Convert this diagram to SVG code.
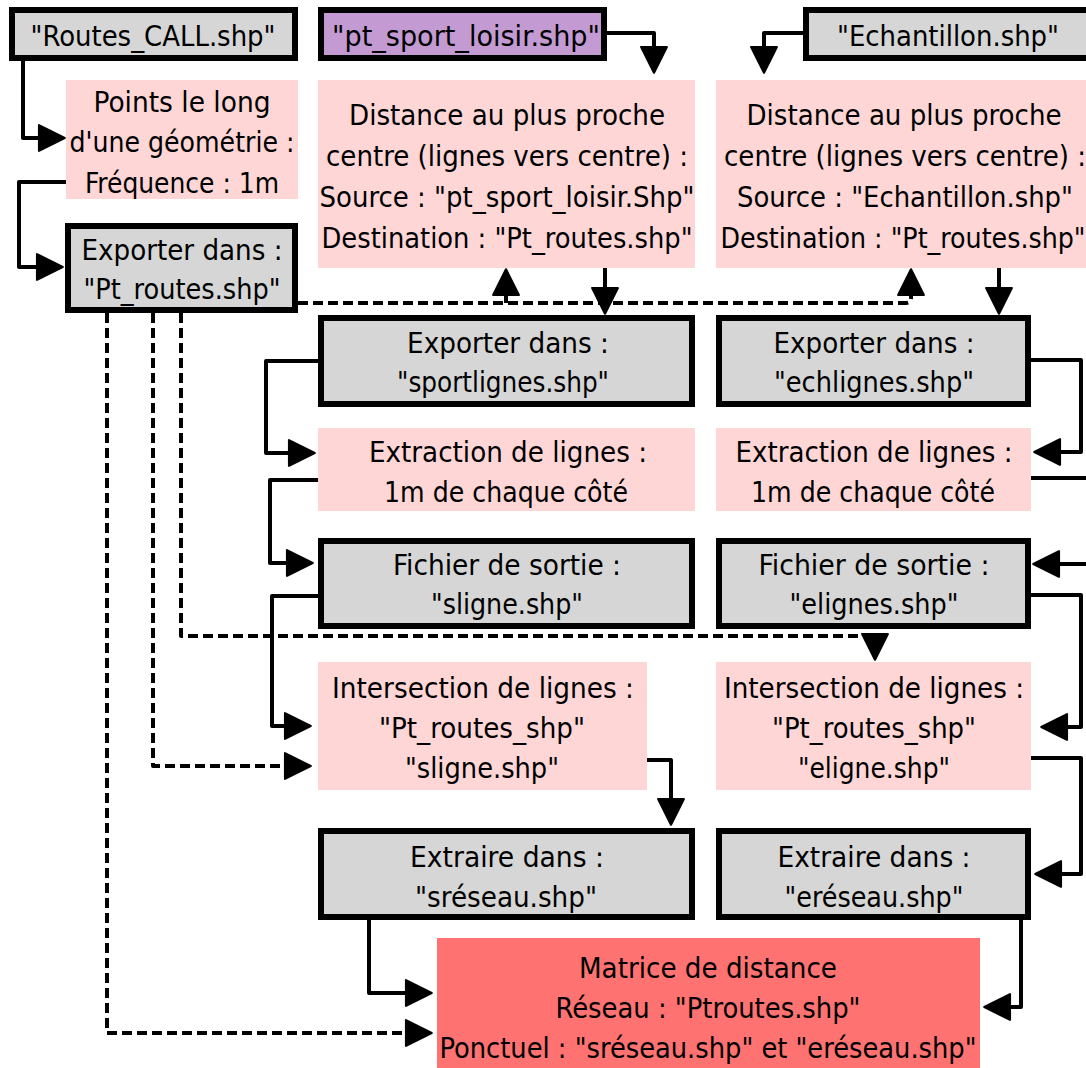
<svg xmlns="http://www.w3.org/2000/svg" width="1086" height="1068" viewBox="0 0 1086 1068">
<defs>
<style>
.gray{fill:#d6d6d6;stroke:#000;stroke-width:6}
.purple{fill:#c39ad2;stroke:#000;stroke-width:6}
.pink{fill:#ffd6d6}
.red{fill:#ff7272}
text{font-family:"DejaVu Sans Condensed","Liberation Sans Narrow","Liberation Sans",sans-serif;font-size:28px;fill:#000;text-anchor:middle}
.c{fill:none;stroke:#000;stroke-width:4;stroke-linejoin:round;marker-end:url(#ah)}
.n{fill:none;stroke:#000;stroke-width:4;stroke-linejoin:round}
.d{fill:none;stroke:#000;stroke-width:4;stroke-dasharray:10 5;stroke-linejoin:round;marker-end:url(#ah)}
</style>
<marker id="ah" markerUnits="userSpaceOnUse" markerWidth="30" markerHeight="30" viewBox="-2 -2 28 28" refX="14" refY="12" orient="auto">
<path d="M0,0 L24,12 L0,24 Z" fill="#000" stroke="#000" stroke-width="2" stroke-linejoin="round"/>
</marker>
</defs>
<rect width="1086" height="1068" fill="#fff"/>

<g id="routes_call">
<rect class="gray" x="12" y="10" width="283" height="48"/>
<text x="153" y="46" textLength="245" lengthAdjust="spacingAndGlyphs">"Routes_CALL.shp"</text>
</g>
<g id="pt_sport_loisir">
<rect class="purple" x="321" y="10" width="283" height="48"/>
<text x="466" y="46" textLength="268" lengthAdjust="spacingAndGlyphs">"pt_sport_loisir.shp"</text>
</g>
<g id="echantillon">
<rect class="gray" x="806" y="10" width="300" height="48"/>
<text x="948" y="46" textLength="222" lengthAdjust="spacingAndGlyphs">"Echantillon.shp"</text>
</g>
<g id="points_geometrie">
<rect class="pink" x="66" y="80" width="232" height="119"/>
<text x="182" y="112" textLength="177" lengthAdjust="spacingAndGlyphs">Points le long</text>
<text x="182" y="152" textLength="225" lengthAdjust="spacingAndGlyphs">d'une géométrie :</text>
<text x="182" y="193" textLength="194" lengthAdjust="spacingAndGlyphs">Fréquence : 1m</text>
</g>
<g id="export_pt_routes">
<rect class="gray" x="68" y="226" width="227" height="84"/>
<text x="182" y="260" textLength="201" lengthAdjust="spacingAndGlyphs">Exporter dans :</text>
<text x="182" y="299" textLength="197" lengthAdjust="spacingAndGlyphs">"Pt_routes.shp"</text>
</g>
<g id="distance_sport">
<rect class="pink" x="318" y="80" width="377" height="188"/>
<text x="507" y="125" textLength="316" lengthAdjust="spacingAndGlyphs">Distance au plus proche</text>
<text x="507" y="166" textLength="362" lengthAdjust="spacingAndGlyphs">centre (lignes vers centre) :</text>
<text x="507" y="207" textLength="375" lengthAdjust="spacingAndGlyphs">Source : "pt_sport_loisir.Shp"</text>
<text x="507" y="248" textLength="371" lengthAdjust="spacingAndGlyphs">Destination : "Pt_routes.shp"</text>
</g>
<g id="distance_ech">
<rect class="pink" x="716" y="80" width="384" height="188"/>
<text x="904" y="125" textLength="315" lengthAdjust="spacingAndGlyphs">Distance au plus proche</text>
<text x="905" y="166" textLength="362" lengthAdjust="spacingAndGlyphs">centre (lignes vers centre) :</text>
<text x="905" y="207" textLength="336" lengthAdjust="spacingAndGlyphs">Source : "Echantillon.shp"</text>
<text x="903" y="248" textLength="365" lengthAdjust="spacingAndGlyphs">Destination : "Pt_routes.shp"</text>
</g>
<g id="export_sportlignes">
<rect class="gray" x="321" y="318" width="371" height="86"/>
<text x="508" y="353" textLength="202" lengthAdjust="spacingAndGlyphs">Exporter dans :</text>
<text x="503" y="392" textLength="212" lengthAdjust="spacingAndGlyphs">"sportlignes.shp"</text>
</g>
<g id="export_echlignes">
<rect class="gray" x="719" y="318" width="309" height="86"/>
<text x="874" y="353" textLength="201" lengthAdjust="spacingAndGlyphs">Exporter dans :</text>
<text x="874" y="392" textLength="200" lengthAdjust="spacingAndGlyphs">"echlignes.shp"</text>
</g>
<g id="extraction_sport">
<rect class="pink" x="318" y="428" width="377" height="83"/>
<text x="508" y="462" textLength="278" lengthAdjust="spacingAndGlyphs">Extraction de lignes :</text>
<text x="506" y="502" textLength="244" lengthAdjust="spacingAndGlyphs">1m de chaque côté</text>
</g>
<g id="extraction_ech">
<rect class="pink" x="716" y="428" width="315" height="83"/>
<text x="874" y="462" textLength="277" lengthAdjust="spacingAndGlyphs">Extraction de lignes :</text>
<text x="873" y="502" textLength="244" lengthAdjust="spacingAndGlyphs">1m de chaque côté</text>
</g>
<g id="fichier_sligne">
<rect class="gray" x="321" y="541" width="371" height="85"/>
<text x="507" y="575" textLength="228" lengthAdjust="spacingAndGlyphs">Fichier de sortie :</text>
<text x="507" y="614" textLength="152" lengthAdjust="spacingAndGlyphs">"sligne.shp"</text>
</g>
<g id="fichier_elignes">
<rect class="gray" x="719" y="541" width="309" height="85"/>
<text x="874" y="575" textLength="231" lengthAdjust="spacingAndGlyphs">Fichier de sortie :</text>
<text x="874" y="614" textLength="169" lengthAdjust="spacingAndGlyphs">"elignes.shp"</text>
</g>
<g id="intersection_sport">
<rect class="pink" x="318" y="662" width="329" height="128"/>
<text x="483" y="698" textLength="302" lengthAdjust="spacingAndGlyphs">Intersection de lignes :</text>
<text x="482" y="738" textLength="206" lengthAdjust="spacingAndGlyphs">"Pt_routes_shp"</text>
<text x="482" y="778" textLength="154" lengthAdjust="spacingAndGlyphs">"sligne.shp"</text>
</g>
<g id="intersection_ech">
<rect class="pink" x="716" y="662" width="315" height="128"/>
<text x="874" y="698" textLength="300" lengthAdjust="spacingAndGlyphs">Intersection de lignes :</text>
<text x="874" y="738" textLength="204" lengthAdjust="spacingAndGlyphs">"Pt_routes_shp"</text>
<text x="874" y="778" textLength="152" lengthAdjust="spacingAndGlyphs">"eligne.shp"</text>
</g>
<g id="extraire_sreseau">
<rect class="gray" x="321" y="831" width="371" height="86"/>
<text x="507" y="867" textLength="194" lengthAdjust="spacingAndGlyphs">Extraire dans :</text>
<text x="506" y="907" textLength="182" lengthAdjust="spacingAndGlyphs">"sréseau.shp"</text>
</g>
<g id="extraire_ereseau">
<rect class="gray" x="719" y="831" width="309" height="86"/>
<text x="874" y="867" textLength="193" lengthAdjust="spacingAndGlyphs">Extraire dans :</text>
<text x="874" y="907" textLength="179" lengthAdjust="spacingAndGlyphs">"eréseau.shp"</text>
</g>
<g id="matrice">
<rect class="red" x="437" y="938" width="543" height="132"/>
<text x="708" y="978" textLength="258" lengthAdjust="spacingAndGlyphs">Matrice de distance</text>
<text x="708" y="1018" textLength="305" lengthAdjust="spacingAndGlyphs">Réseau : "Ptroutes.shp"</text>
<text x="708" y="1058" textLength="537" lengthAdjust="spacingAndGlyphs">Ponctuel : "sréseau.shp" et "eréseau.shp"</text>
</g>

<g id="connectors">
<path class="c" d="M23,61 V138 H54"/>
<path class="c" d="M66,182 H19 V267 H52"/>
<path class="c" d="M607,33 H654 V62"/>
<path class="c" d="M803,33 H764 V62"/>
<path class="c" d="M605,268 V303"/>
<path class="c" d="M999,268 V303"/>
<path class="c" d="M318,361 H266 V453 H304"/>
<path class="c" d="M318,480 H270 V563 H302"/>
<path class="c" d="M318,596 H272 V726 H300"/>
<path class="c" d="M647,760 H671 V814"/>
<path class="c" d="M369,920 V993 H421"/>
<path class="c" d="M1031,360 H1081 V452 H1045"/>
<path class="n" d="M1031,478 H1090"/>
<path class="c" d="M1090,564 H1044"/>
<path class="c" d="M1031,595 H1081 V727 H1052"/>
<path class="c" d="M1031,758 H1081 V874 H1046"/>
<path class="c" d="M1021,920 V1007 H995"/>
<path class="d" d="M298,303 H906 Q911,303 911,298 V280"/>
<path class="d" d="M506,303 V280"/>
<path class="d" d="M181,313 V636 H875 V649"/>
<path class="d" d="M153,313 V766 H300"/>
<path class="d" d="M107,313 V1033 H421"/>
</g>
</svg>
